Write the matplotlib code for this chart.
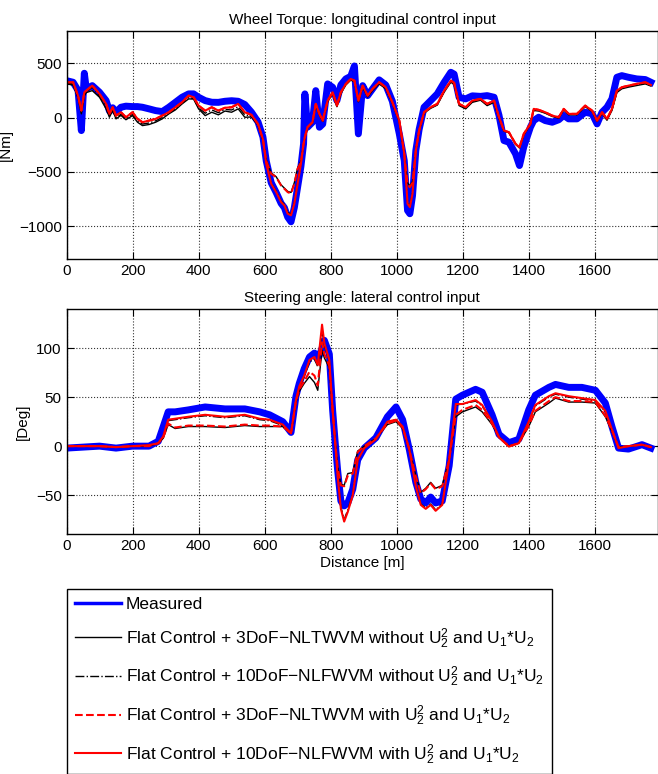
import numpy as np
import matplotlib
matplotlib.use("Agg")
import matplotlib.pyplot as plt

plt.rcParams['font.family'] = ['Liberation Sans', 'DejaVu Sans']
plt.rcParams['mathtext.fontset'] = 'custom'
plt.rcParams['mathtext.rm'] = 'Liberation Sans'

# ---- wheel torque [Nm] vs distance [m] ----
dist_top = [0, 20, 35, 45, 54, 60, 78, 100, 120, 130, 140, 150, 165, 180, 200, 215, 230, 250, 270, 290,
            310, 330, 350, 370, 385, 400, 420, 440, 460, 480, 500, 520, 540, 560, 580, 595, 605, 620, 635, 650,
            660, 670, 680, 690, 700, 710, 718, 722, 730, 745, 755, 766, 776, 791, 806, 819, 831, 846, 861, 872,
            884, 897, 912, 927, 947, 967, 987, 1008, 1023, 1033, 1040, 1048, 1058, 1068, 1083, 1103, 1123, 1144, 1164, 1174,
            1189, 1209, 1229, 1254, 1274, 1295, 1310, 1325, 1340, 1360, 1372, 1385, 1405, 1415, 1430, 1450, 1471, 1491, 1506, 1521,
            1546, 1571, 1592, 1607, 1622, 1637, 1652, 1667, 1682, 1702, 1727, 1753, 1770]
torque_meas = [340, 325, 250, -120, 408, 264, 294, 233, 156, 60, 90, 50, 95, 105, 101, 101, 95, 80, 64, 55,
               95, 141, 187, 218, 218, 187, 156, 141, 140, 150, 155, 150, 120, 50, -40, -180, -400, -600, -690, -790,
               -830, -917, -960, -830, -640, -450, -242, 218, -89, -43, 248, -89, -60, 310, 279, 156, 300, 356, 380, 475,
               -150, 294, 202, 264, 347, 300, 150, -150, -396, -856, -886, -720, -304, -110, 95, 156, 218, 325, 417, 400,
               187, 172, 200, 195, 202, 187, 20, -212, -227, -334, -442, -270, -89, -28, 3, -28, -43, -20, 20, -12,
               -12, 49, 35, -58, 49, 95, 172, 371, 386, 371, 356, 350, 325]
torque_3dof_wo = [310, 300, 180, 34, 200, 230, 248, 187, 80, 3, 64, -12, 20, -20, 18, -43, -74, -64, -43, -12,
                  34, 71, 126, 172, 170, 80, 18, 49, 25, 60, 49, 80, 3, 5, -70, -210, -390, -510, -545, -620,
                  -650, -680, -690, -600, -465, -400, -250, -190, -95, -50, 115, 25, -35, 145, 220, 100, 220, 300, 345, 330,
                  145, 280, 190, 250, 310, 265, 130, -40, -340, -600, -630, -590, -300, -125, 40, 85, 115, 235, 325, 305,
                  110, 80, 140, 160, 110, 140, -10, -125, -140, -245, -280, -160, -65, 65, 60, 40, 10, -5, 70, 25,
                  25, 100, 55, -35, 40, -25, 65, 230, 265, 280, 295, 310, 290]
torque_10dof_wo = [315, 310, 190, 50, 215, 240, 280, 200, 100, 15, 75, 0, 30, -10, 30, -30, -60, -50, -30, 0,
                   40, 80, 130, 185, 175, 90, 40, 70, 45, 75, 70, 100, 25, 15, -65, -205, -420, -605, -680, -770,
                   -800, -875, -890, -785, -605, -425, -245, -185, -92, -46, 120, 30, -32, 150, 225, 105, 225, 305, 350, 335,
                   150, 288, 196, 258, 318, 272, 135, -35, -338, -785, -815, -695, -302, -122, 45, 90, 120, 240, 332, 312,
                   118, 88, 148, 165, 118, 148, -5, -122, -138, -244, -276, -155, -62, 72, 65, 44, 14, -2, 75, 30,
                   30, 105, 60, -32, 45, -18, 72, 240, 272, 288, 302, 318, 295]
torque_3dof_w = [325, 325, 200, 64, 233, 248, 294, 218, 126, 34, 95, 18, 49, 3, 49, -12, -43, -28, -12, 18,
                 49, 95, 141, 202, 187, 110, 64, 95, 64, 90, 95, 126, 49, 25, -60, -200, -400, -518, -549, -626,
                 -656, -687, -700, -610, -472, -411, -242, -180, -89, -43, 126, 34, -28, 156, 233, 110, 233, 310, 356, 340,
                 156, 294, 202, 264, 325, 279, 141, -28, -334, -610, -641, -600, -304, -120, 49, 95, 126, 248, 340, 320,
                 126, 95, 156, 172, 126, 156, 3, -120, -135, -242, -273, -150, -58, 80, 71, 49, 18, 3, 80, 34,
                 34, 110, 64, -28, 49, -12, 80, 248, 279, 294, 310, 325, 300]
torque_10dof_w = [325, 325, 200, 64, 233, 248, 294, 218, 126, 34, 95, 18, 49, 3, 49, -12, -43, -28, -12, 18,
                  49, 95, 141, 202, 187, 110, 64, 95, 64, 90, 95, 126, 49, 25, -60, -200, -426, -610, -687, -779,
                  -810, -886, -900, -794, -610, -426, -242, -180, -89, -43, 126, 34, -28, 156, 233, 110, 233, 310, 356, 340,
                  156, 294, 202, 264, 325, 279, 141, -28, -334, -794, -825, -702, -304, -120, 49, 95, 126, 248, 340, 320,
                  126, 95, 156, 172, 126, 156, 3, -120, -135, -242, -273, -150, -58, 80, 71, 49, 18, 3, 80, 34,
                  34, 110, 64, -28, 49, -12, 80, 248, 279, 294, 310, 325, 300]

# ---- steering angle [Deg] vs distance [m] ----
dist_bot = [0, 50, 100, 150, 200, 250, 278, 293, 308, 329, 369, 420, 480, 540, 585, 615, 655, 680, 695, 705,
            720, 736, 751, 761, 774, 781, 796, 806, 814, 821, 831, 841, 852, 867, 882, 902, 937, 972, 998, 1018,
            1038, 1058, 1073, 1088, 1103, 1118, 1138, 1159, 1179, 1199, 1239, 1259, 1289, 1310, 1340, 1370, 1400, 1420, 1461, 1481,
            1521, 1561, 1602, 1632, 1652, 1672, 1702, 1743, 1770]
steer_meas = [-2, -1, 0, -2, 0, 0, 5, 20, 35, 35, 37, 40, 38, 38, 35, 32, 25, 14, 51, 64,
              79, 91, 95, 88, 100, 108, 94, 37, 3, -24, -56, -61, -58, -44, -14, -2, 8.5, 30, 40, 27,
              -3, -37, -54, -58, -52, -58, -56, -20, 48, 52, 58, 55, 32, 12, 3.5, 7, 37, 52, 60, 63,
              60, 60, 57, 44, 20, -2, -3, 1.5, -2]
steer_3dof_wo = [0, 0, 0, -1, 0, 0, 3, 8, 22, 18, 20, 20, 19, 21, 20, 20, 20, 13, 45, 56,
                 64, 71, 65, 57, 98, 90, 80, 37, 3, -20, -39, -40, -28, -27, -5, 0, 8, 22, 25, 18,
                 -3, -30, -47, -43, -37, -43, -40, -14, 30, 35, 40, 35, 22, 9, 0, 3, 20, 35, 44, 49,
                 45, 45, 44, 30, 15, -1, 0, 1.5, -1]
steer_10dof_wo = [0, 0, 0, -1, 0, 1, 3, 10, 26, 27, 29, 31, 29, 31, 27, 26, 21, 13, 46, 60,
                  71, 86, 89, 81, 118, 103, 87, 37, 3, -29, -62, -75, -65, -49, -14, -2, 7, 25, 27, 20,
                  -3, -40, -59, -63, -59, -65, -59, -14, 42, 43, 46, 41, 25, 9, 0, 3, 25, 41, 50, 53,
                  50, 48, 46, 35, 17, -2, 0, 1.5, -1]
steer_3dof_w = [0, 0, 0, -1, 0, 0, 3, 9, 23, 19, 21, 21, 20, 22, 21, 21, 20, 13, 46, 58,
                66, 76, 72, 62, 106, 94, 82, 37, 3, -21, -40, -41, -30, -28, -6, 0, 8, 23, 26, 19,
                -3, -31, -48, -44, -38, -44, -41, -14, 32, 37, 42, 37, 23, 9, 0, 3, 21, 36, 46, 50,
                46, 46, 45, 31, 16, -1, 0, 1.5, -1]
steer_10dof_w = [0, 0, 0, -1, 0, 1, 3, 10, 27, 28, 30, 32, 30, 32, 28, 27, 22, 13, 47, 61,
                 72, 88, 91, 83, 124, 105, 88, 37, 3, -30, -64, -77, -67, -50, -14, -2, 7, 25, 27, 20,
                 -3, -41, -60, -64, -60, -66, -60, -14, 43, 43, 47, 42, 25, 9, -0.5, 3, 25, 42, 51, 54,
                 51, 49, 47, 36, 17, -2, 0, 1.5, -1]

labels = ['Measured',
          r'Flat Control + 3DoF−NLTWVM without $\mathregular{U_2^2}$ and $\mathregular{U_1}$*$\mathregular{U_2}$',
          r'Flat Control + 10DoF−NLFWVM without $\mathregular{U_2^2}$ and $\mathregular{U_1}$*$\mathregular{U_2}$',
          r'Flat Control + 3DoF−NLTWVM with $\mathregular{U_2^2}$ and $\mathregular{U_1}$*$\mathregular{U_2}$',
          r'Flat Control + 10DoF−NLFWVM with $\mathregular{U_2^2}$ and $\mathregular{U_1}$*$\mathregular{U_2}$']

W, H = 658, 774
fig = plt.figure(figsize=(W / 100, H / 100), dpi=100)
ax1 = fig.add_axes([66.5 / W, 1 - 258.7 / H, 591 / W, 228 / H])
ax2 = fig.add_axes([66.5 / W, 1 - 534.3 / H, 591 / W, 225.3 / H])


def draw(ax, d, meas, a, b, c, e):
    hs = []
    hs += ax.plot(d, meas, color='#0000ff', lw=5, solid_joinstyle='round')
    hs += ax.plot(d, a, color='k', lw=1.0, ls='-')
    hs += ax.plot(d, b, color='k', lw=1.0, ls='-.')
    hs += ax.plot(d, c, color='#ff0000', lw=1.5, ls='--')
    hs += ax.plot(d, e, color='#ff0000', lw=1.5, ls='-')
    ax.set_xlim(0, 1790)
    ax.set_xticks(range(0, 1601, 200))
    ax.grid(True, ls=':', color='0.2', lw=0.8)
    ax.tick_params(direction='in', top=True, right=True, labelsize=11, length=5)
    for s in ax.spines.values():
        s.set_linewidth(1.0)
    return hs


handles = draw(ax1, dist_top, torque_meas, torque_3dof_wo, torque_10dof_wo, torque_3dof_w, torque_10dof_w)
ax1.set_ylim(-1300, 800)
ax1.set_yticks([-1000, -500, 0, 500])
ax1.set_ylabel('[Nm]', fontsize=11, labelpad=4)
ax1.set_title('Wheel Torque: longitudinal control input', fontsize=11, pad=5)

draw(ax2, dist_bot, steer_meas, steer_3dof_wo, steer_10dof_wo, steer_3dof_w, steer_10dof_w)
ax2.set_ylim(-90, 140)
ax2.set_yticks([-50, 0, 50, 100])
ax2.set_ylabel('[Deg]', fontsize=11, labelpad=4)
ax2.set_title('Steering angle: lateral control input', fontsize=11, pad=5)
ax2.set_xlabel('Distance [m]', fontsize=11, labelpad=2)

leg = fig.legend(handles, labels, loc='upper left', bbox_to_anchor=(67 / W, 1 - 589 / H),
                 fontsize=12.5, frameon=True, fancybox=False, framealpha=1, edgecolor='k',
                 borderaxespad=0, handlelength=2.65, handletextpad=0.3, labelspacing=0.82,
                 borderpad=0.45)
leg.get_frame().set_linewidth(1.0)
leg.legend_handles[0].set_linewidth(2.5)

fig.savefig('out.png', dpi=100)
